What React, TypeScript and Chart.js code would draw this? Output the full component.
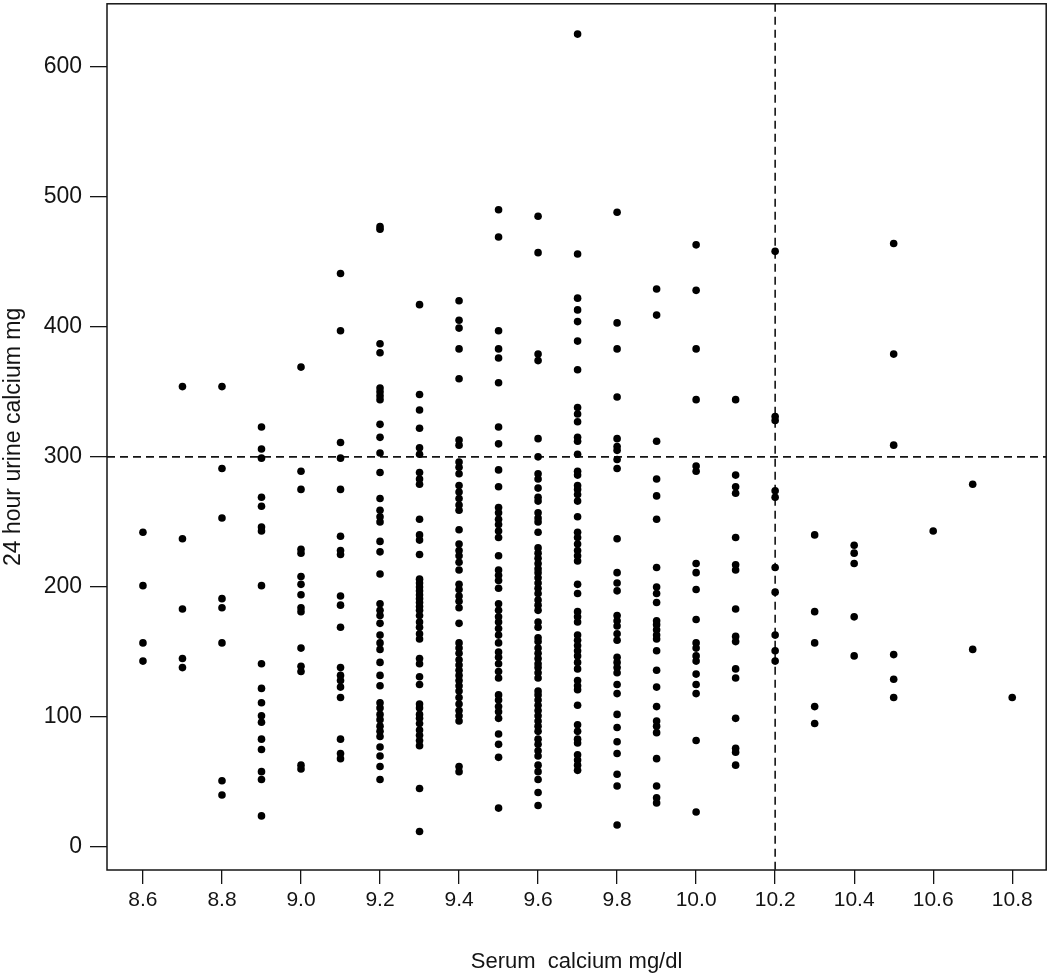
import React, { useEffect, useRef } from "react";
import { Chart, registerables } from "chart.js";

Chart.register(...registerables);

// Serum calcium levels (x categories, mg/dl)
const serumLevels = [8.6, 8.7, 8.8, 8.9, 9.0, 9.1, 9.2, 9.3, 9.4, 9.5, 9.6, 9.7, 9.8, 9.9, 10.0, 10.1, 10.2, 10.3, 10.4, 10.5, 10.6, 10.7, 10.8];

// 24 hour urine calcium (mg) observed at each serum level
const u86 = [242, 201, 157, 143];
const u87 = [354, 237, 183, 145, 138];
const u88 = [354, 291, 253, 191, 184, 157, 51, 40];
const u89 = [323, 306, 299, 269, 262, 246, 243, 201, 141, 122, 111, 101, 96, 83, 75, 58, 52, 24];
const u90 = [369, 289, 275, 229, 226, 208, 202, 194, 184, 181, 153, 139, 135, 63, 60];
const u91 = [441, 397, 311, 299, 275, 239, 228, 225, 193, 186, 169, 138, 132, 128, 123, 115, 83, 72, 68];
const u92 = [477, 475, 387, 380, 353, 350, 347, 344, 325, 315, 303, 288, 268, 259, 254, 250, 235, 227, 210, 187, 182, 178, 172, 163, 157, 152, 142, 132, 124, 111, 107, 102, 98, 93, 89, 85, 77, 70, 62, 52];
const u93 = [417, 348, 336, 322, 307, 302, 288, 283, 279, 252, 240, 236, 225, 206, 203, 200, 197, 194, 191, 188, 185, 182, 178, 173, 169, 164, 160, 145, 141, 131, 125, 110, 107, 102, 99, 95, 90, 86, 82, 78, 45, 12];
const u94 = [420, 405, 399, 383, 360, 313, 309, 296, 292, 287, 278, 273, 268, 263, 259, 244, 233, 228, 224, 219, 213, 202, 198, 193, 189, 184, 172, 157, 153, 149, 144, 140, 136, 132, 128, 124, 120, 115, 110, 105, 101, 97, 62, 58];
const u95 = [490, 469, 397, 383, 376, 357, 323, 310, 290, 277, 261, 257, 252, 248, 243, 238, 224, 213, 209, 205, 199, 187, 182, 177, 173, 168, 163, 157, 150, 146, 141, 135, 130, 117, 113, 108, 104, 99, 87, 79, 69, 30];
const u96 = [485, 457, 379, 374, 314, 300, 287, 283, 276, 269, 266, 257, 253, 250, 242, 230, 226, 222, 218, 214, 211, 207, 203, 199, 195, 190, 186, 182, 173, 169, 161, 158, 153, 149, 145, 141, 138, 134, 130, 120, 117, 113, 109, 105, 101, 97, 93, 89, 83, 79, 74, 70, 63, 58, 52, 42, 32];
const u97 = [625, 456, 422, 413, 404, 389, 367, 338, 333, 327, 315, 312, 302, 289, 286, 278, 275, 271, 266, 254, 242, 238, 233, 228, 224, 220, 202, 195, 181, 177, 173, 163, 159, 155, 151, 147, 142, 137, 128, 124, 121, 109, 94, 89, 83, 80, 71, 67, 63, 59];
const u98 = [488, 403, 383, 346, 314, 308, 305, 298, 291, 237, 211, 203, 197, 178, 174, 170, 164, 159, 146, 142, 138, 134, 125, 118, 102, 92, 81, 72, 56, 47, 17];
const u99 = [429, 409, 312, 283, 270, 252, 215, 200, 195, 188, 174, 171, 167, 163, 160, 151, 136, 123, 108, 97, 93, 88, 68, 47, 38, 34];
const u100 = [463, 428, 383, 344, 293, 289, 218, 211, 198, 175, 157, 153, 147, 143, 133, 125, 118, 82, 27];
const u101 = [344, 286, 277, 272, 238, 217, 213, 183, 162, 158, 137, 130, 99, 76, 73, 63];
const u102 = [458, 331, 328, 274, 269, 215, 196, 163, 151, 143];
const u103 = [240, 181, 157, 108, 95];
const u104 = [232, 226, 218, 177, 147];
const u105 = [464, 379, 309, 148, 129, 115];
const u106 = [243];
const u107 = [279, 152];
const u108 = [115];

const urineByLevel = [u86, u87, u88, u89, u90, u91, u92, u93, u94, u95, u96, u97, u98, u99, u100, u101, u102, u103, u104, u105, u106, u107, u108];

// Axis ticks and limits
const xTicks = [8.6, 8.8, 9.0, 9.2, 9.4, 9.6, 9.8, 10.0, 10.2, 10.4, 10.6, 10.8];
const yTicks = [0, 100, 200, 300, 400, 500, 600];
const xLimits = [8.509, 10.886];
const yLimits = [-17.6, 648.3];

// Reference (cut-off) lines
const refSerum = 10.2;
const refUrine = 300;

const xTitle = "Serum  calcium mg/dl";
const yTitle = "24 hour urine calcium mg";

const FONT = "'Liberation Sans', Arial, Helvetica, sans-serif";
const INK = "#141414";

const framePlugin = {
  id: "frameAndRefs",
  beforeDatasetsDraw(chart: any) {
    const { ctx, chartArea } = chart;
    const xs = chart.scales.x;
    const ys = chart.scales.y;
    ctx.save();
    ctx.strokeStyle = INK;
    ctx.lineWidth = 1.6;
    ctx.setLineDash([8, 5]);
    const px = xs.getPixelForValue(refSerum);
    const py = ys.getPixelForValue(refUrine);
    ctx.beginPath();
    ctx.moveTo(px, chartArea.top);
    ctx.lineTo(px, chartArea.bottom);
    ctx.moveTo(chartArea.left, py);
    ctx.lineTo(chartArea.right, py);
    ctx.stroke();
    ctx.restore();
  },
  afterDraw(chart: any) {
    const { ctx, chartArea } = chart;
    ctx.save();
    ctx.strokeStyle = INK;
    ctx.lineWidth = 1.5;
    ctx.setLineDash([]);
    ctx.strokeRect(chartArea.left, chartArea.top, chartArea.right - chartArea.left, chartArea.bottom - chartArea.top);
    ctx.restore();
  },
};

export default function App() {
  const canvasRef = useRef<HTMLCanvasElement | null>(null);

  useEffect(() => {
    const canvas = canvasRef.current;
    if (!canvas) return;
    const points: { x: number; y: number }[] = [];
    serumLevels.forEach((lvl, i) => {
      urineByLevel[i].forEach((v) => points.push({ x: lvl, y: v }));
    });

    const chart = new Chart(canvas, {
      type: "scatter",
      data: {
        datasets: [
          {
            data: points,
            backgroundColor: "#000",
            borderColor: "#000",
            borderWidth: 0,
            pointRadius: 3.8,
            pointHoverRadius: 3.8,
          },
        ],
      },
      plugins: [framePlugin],
      options: {
        animation: false,
        responsive: false,
        devicePixelRatio: 1,
        layout: { padding: { top: 2, right: 2, left: 0, bottom: 0 } },
        plugins: {
          legend: { display: false },
          tooltip: { enabled: false },
        },
        scales: {
          x: {
            type: "linear",
            min: xLimits[0],
            max: xLimits[1],
            afterBuildTicks: (scale: any) => {
              scale.ticks = xTicks.map((v) => ({ value: v }));
            },
            afterFit: (scale: any) => {
              scale.height = 105;
              scale.paddingLeft = 0;
              scale.paddingRight = 0;
            },
            border: { display: false },
            grid: {
              drawOnChartArea: false,
              drawTicks: true,
              tickLength: 14,
              color: INK,
              lineWidth: 1.3,
            },
            ticks: {
              autoSkip: false,
              maxRotation: 0,
              padding: 4,
              color: INK,
              font: { family: FONT, size: 21 },
              callback: (v: any) => Number(v).toFixed(1),
            },
            title: {
              display: true,
              text: xTitle,
              color: INK,
              font: { family: FONT, size: 22 },
              padding: { top: 0, bottom: 0 },
            },
          },
          y: {
            type: "linear",
            min: yLimits[0],
            max: yLimits[1],
            afterBuildTicks: (scale: any) => {
              scale.ticks = yTicks.map((v) => ({ value: v }));
            },
            afterFit: (scale: any) => {
              scale.width = 107;
              scale.paddingTop = 0;
              scale.paddingBottom = 0;
            },
            border: { display: false },
            grid: {
              drawOnChartArea: false,
              drawTicks: true,
              tickLength: 17,
              color: INK,
              lineWidth: 1.3,
            },
            ticks: {
              autoSkip: false,
              padding: 8,
              color: INK,
              font: { family: FONT, size: 23 },
              callback: (v: any) => String(v),
            },
            title: {
              display: true,
              text: yTitle,
              color: INK,
              font: { family: FONT, size: 23 },
              padding: { top: 0, bottom: 0 },
            },
          },
        },
      },
    } as any);

    return () => chart.destroy();
  }, []);

  return (
    <div style={{ position: "fixed", left: 0, top: 0, width: 1050, height: 975, background: "#fff" }}>
      <canvas ref={canvasRef} width={1050} height={975} style={{ display: "block" }} />
    </div>
  );
}
